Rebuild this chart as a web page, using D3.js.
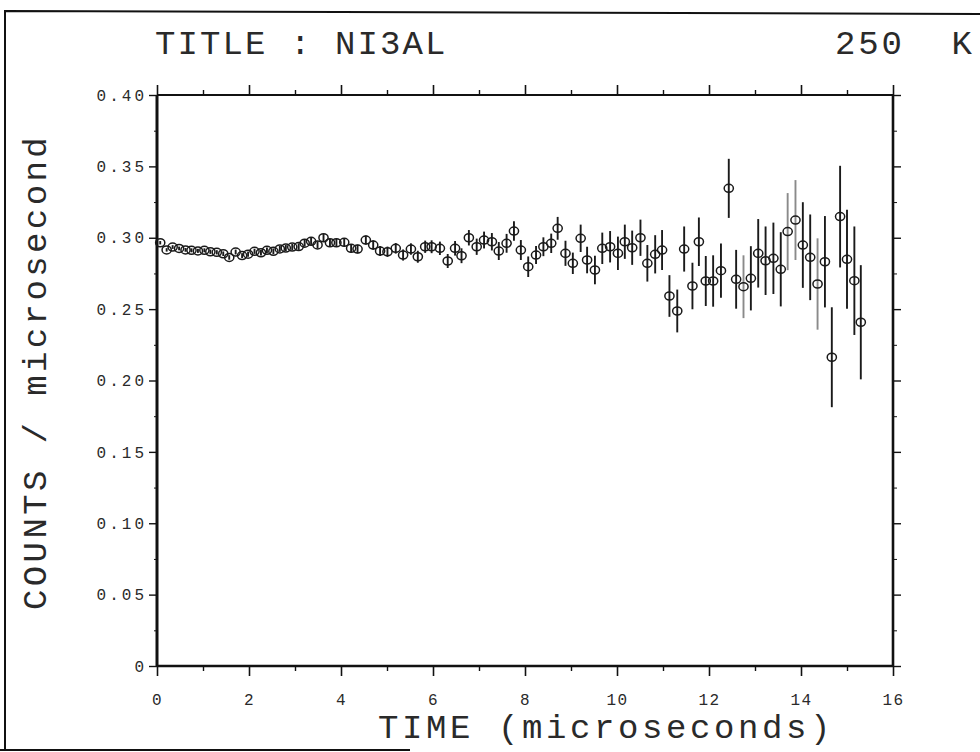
<!DOCTYPE html>
<meta charset="utf-8">
<style>
    body {margin:0; background:#fff;}
    svg text {font-family: 'Liberation Mono', 'DejaVu Sans Mono', monospace; fill:#2a2a2a;}
</style>
<svg width="980" height="752"></svg>
<script src="https://d3js.org/d3.v7.min.js"></script>
<script>

// time bins (microseconds), counts per microsecond and their errors
var times = [0.07,0.21,0.34,0.48,0.62,0.75,0.89,1.03,1.16,1.30,1.44,1.57,1.71,1.85,1.98,2.12,2.26,2.39,2.53,2.67,2.80,2.94,3.08,3.21,3.35,3.49,3.62,3.76,3.90,
  4.07,4.22,4.36,4.54,4.70,4.85,5.01,5.19,5.35,5.52,5.67,5.83,5.97,6.15,6.32,6.48,6.62,6.78,6.95,7.11,7.28,7.43,7.60,7.76,7.91,8.07,
  8.24,8.40,8.57,8.71,8.88,9.04,9.21,9.35,9.52,9.68,9.85,10.02,10.17,10.33,10.51,10.66,10.83,10.98,11.14,11.31,11.46,11.64,11.78,11.93,12.09,
  12.26,12.43,12.59,12.75,12.91,13.07,13.23,13.40,13.56,13.71,13.88,14.04,14.20,14.36,14.52,14.67,14.85,15.00,15.16,15.30];

var counts = [.2965,.2915,.2935,.2925,.2915,.2912,.2908,.2912,.2902,.2898,.2888,.2862,.2900,.2875,.2885,.2905,.2895,.2912,.2905,.2922,.2928,.2935,.2938,.2962,.2975,.2950,.3000,.2965,.2965,
  .2968,.2926,.2921,.2984,.2949,.2907,.2902,.2926,.2879,.2921,.2867,.2937,.2937,.2926,.2837,.2926,.2874,.3000,.2937,.2984,.2972,.2907,.2961,.3047,.2914,.2797,
  .2879,.2937,.2961,.3066,.2891,.2821,.2996,.2844,.2774,.2926,.2937,.2891,.2972,.2930,.3000,.2821,.2884,.2914,.2592,.2487,.2921,.2662,.2972,.2697,.2697,
  .2769,.3346,.2709,.2657,.2716,.2891,.2839,.2856,.2779,.3043,.3124,.2949,.2863,.2676,.2832,.2163,.3148,.2849,.2699,.2408];

var errors = [.0012,.0012,.0013,.0013,.0013,.0014,.0014,.0014,.0015,.0015,.0016,.0016,.0017,.0017,.0018,.0018,.0019,.0020,.0020,.0021,.0021,.0022,.0023,.0024,.0025,.0025,.0026,.0027,.0028,
  .0029,.0030,.0031,.0032,.0033,.0035,.0036,.0037,.0039,.0040,.0042,.0043,.0045,.0047,.0049,.0051,.0052,.0054,.0057,.0059,.0061,.0063,.0066,.0068,.0070,.0072,
  .0063,.0066,.0068,.0080,.0088,.0075,.0096,.0093,.0100,.0110,.0110,.0117,.0120,.0120,.0127,.0128,.0134,.0140,.0146,.0150,.0158,.0163,.0170,.0175,.0180,
  .0190,.0207,.0206,.0220,.0225,.0240,.0240,.0250,.0260,.0270,.0280,.0300,.0300,.0320,.0320,.0350,.0356,.0347,.0380,.0400];

// error bars that came out faint on the original print
var faintTimes = [12.75, 13.71, 13.88, 14.36];

var xMajor = [0,2,4,6,8,10,12,14,16];
var xMinor = [1,3,5,7,9,11,13,15];
var yMajor = [0,0.05,0.10,0.15,0.20,0.25,0.30,0.35,0.40];
var yMinor = [0.025,0.075,0.125,0.175,0.225,0.275,0.325,0.375];

var svg = d3.select("svg");

var x = d3.scaleLinear().domain([0,16]).range([157,893]);
var y = d3.scaleLinear().domain([0,0.4]).range([666,95]);

// page border from the scan
svg.append("path")
    .attr("d", "M0,750 L410,750 M5,750 L5,11 L980,14")
    .style("fill","none").style("stroke","#111").style("stroke-width",2);

function yfmt(d){ return d === 0 ? "0" : d3.format(".2f")(d); }

var axisStyle = function(g, w, ls){
  g.select(".domain").remove();
  g.selectAll("line").style("stroke","#111").style("stroke-width", w);
  g.selectAll("text").style("font-size","16px").style("letter-spacing", (ls || 1) + "px");
};

// bottom
svg.append("g").attr("transform","translate(0,666)")
    .call(d3.axisBottom(x).tickValues(xMajor).tickSize(10).tickPadding(18).tickFormat(d3.format("d")))
    .call(axisStyle, 1.6, 1.5);
svg.append("g").attr("transform","translate(0,666)")
    .call(d3.axisBottom(x).tickValues(xMinor).tickSize(5).tickFormat(""))
    .call(axisStyle, 1.4);
// top
svg.append("g").attr("transform","translate(0,95)")
    .call(d3.axisTop(x).tickValues(xMajor).tickSize(10).tickFormat(""))
    .call(axisStyle, 1.6);
svg.append("g").attr("transform","translate(0,95)")
    .call(d3.axisTop(x).tickValues(xMinor).tickSize(5).tickFormat(""))
    .call(axisStyle, 1.4);
// left
svg.append("g").attr("transform","translate(157,0)")
    .call(d3.axisLeft(y).tickValues(yMajor).tickSize(8).tickPadding(2).tickFormat(yfmt))
    .call(axisStyle, 1.4, 3);
svg.append("g").attr("transform","translate(157,0)")
    .call(d3.axisLeft(y).tickValues(yMinor).tickSize(3).tickFormat(""))
    .call(axisStyle, 1);
// right
svg.append("g").attr("transform","translate(893,0)")
    .call(d3.axisRight(y).tickValues(yMajor).tickSize(8).tickFormat(""))
    .call(axisStyle, 1.4);
svg.append("g").attr("transform","translate(893,0)")
    .call(d3.axisRight(y).tickValues(yMinor).tickSize(4).tickFormat(""))
    .call(axisStyle, 1);

// frame
var frame = svg.append("g").style("stroke","#111").style("fill","none");
frame.append("line").attr("x1",x(0)).attr("x2",x(16)).attr("y1",y(0.4)).attr("y2",y(0.4)).style("stroke-width",2.2);
frame.append("line").attr("x1",x(0)).attr("x2",x(16)).attr("y1",y(0)).attr("y2",y(0)).style("stroke-width",2.4);
frame.append("line").attr("x1",x(0)).attr("x2",x(0)).attr("y1",y(0.4)).attr("y2",y(0)).style("stroke-width",3);
frame.append("line").attr("x1",x(16)).attr("x2",x(16)).attr("y1",y(0.4)).attr("y2",y(0)).style("stroke-width",2.6);

var pts = times.map(function(t,i){ return {t:t, v:counts[i], e:errors[i], faint: faintTimes.indexOf(t) >= 0}; });

svg.append("g").selectAll("line")
    .data(pts).enter().append("line")
    .attr("x1", function(d){ return x(d.t); })
    .attr("x2", function(d){ return x(d.t); })
    .attr("y1", function(d){ return y(d.v - d.e); })
    .attr("y2", function(d){ return y(d.v + d.e); })
    .style("stroke", function(d){ return d.faint ? "#8a8a8a" : "#1a1a1a"; })
    .style("stroke-width", 1.9);

svg.append("g").selectAll("ellipse")
    .data(pts).enter().append("ellipse")
    .attr("cx", function(d){ return x(d.t); })
    .attr("cy", function(d){ return y(d.v); })
    .attr("rx", 4.6).attr("ry", 4)
    .style("fill","none")
    .style("stroke", "#1a1a1a")
    .style("stroke-width", 1.5);

// titles
svg.append("text").attr("x",155).attr("y",54)
    .style("font-size","34px").style("letter-spacing","2.1px").text("TITLE : NI3AL");
svg.append("text").attr("x",835).attr("y",54)
    .style("font-size","34px").style("letter-spacing","2.9px").style("white-space","pre").text("250  K");

svg.append("text").attr("x",378).attr("y",738)
    .style("font-size","34px").style("letter-spacing","3.6px").text("TIME (microseconds)");

svg.append("text")
    .attr("transform","translate(46,372) rotate(-90)")
    .attr("text-anchor","middle")
    .style("font-size","34px").style("letter-spacing","3.4px")
    .text("COUNTS / microsecond");

</script>
